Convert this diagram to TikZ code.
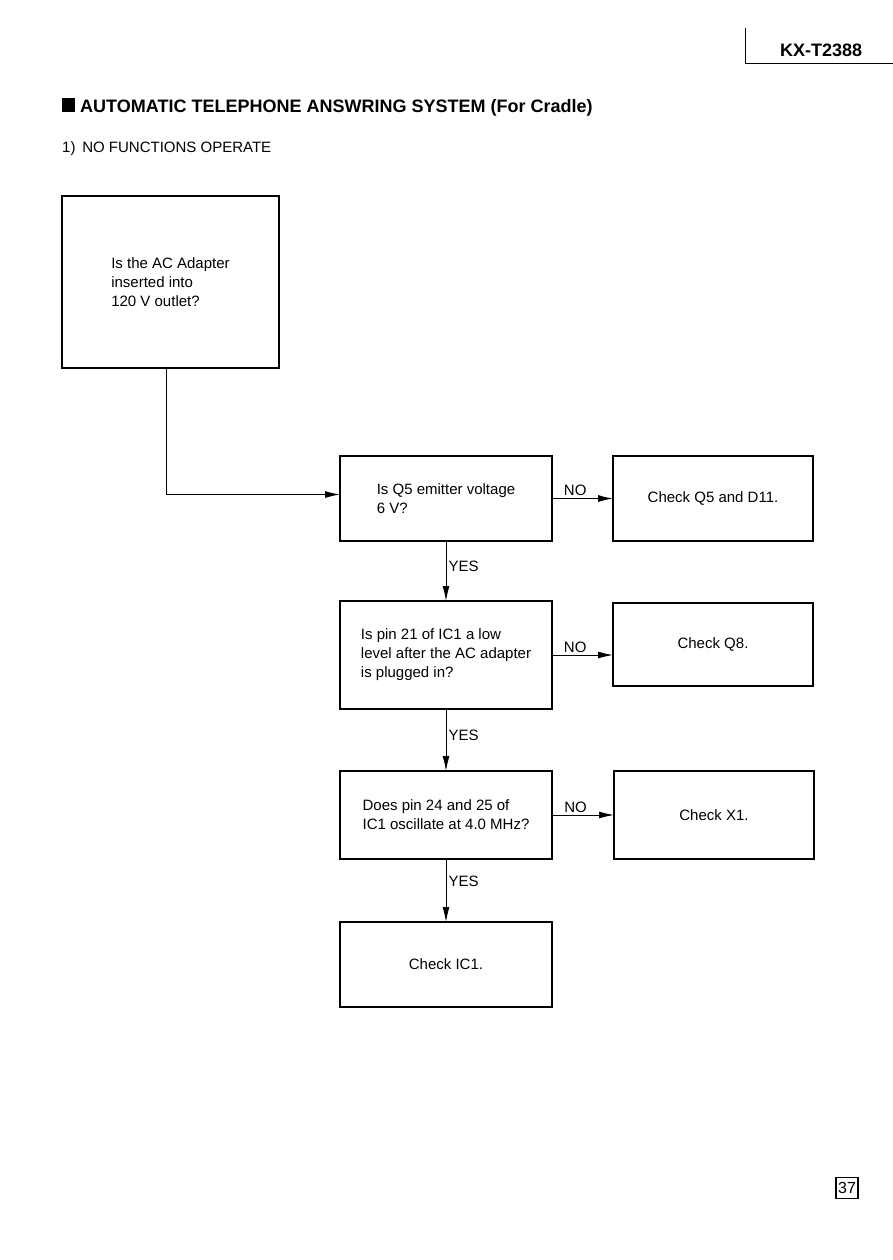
\documentclass[tikz,border=0pt]{standalone}
\usepackage{fontspec}
\setmainfont{Liberation Sans}
\usetikzlibrary{arrows.meta,positioning}

\begin{document}
\begin{tikzpicture}[x=1pt, y=1pt,
    box/.style={rectangle, draw, line width=1.5pt, outer sep=0pt, inner sep=0pt, align=left, font=\fontsize{15}{19}\selectfont},
    arrow/.style={-{Latex[length=15pt,width=7pt]}, line width=1pt},
    lbl/.style={font=\fontsize{15}{18}\selectfont, inner sep=2pt},
    node distance=60pt and 61pt]

  \useasboundingbox (0,0) rectangle (893,-1260);

  % page header
  \node[anchor=base west, inner sep=0pt, font=\fontsize{18}{22}\selectfont\bfseries] (model) at (780,-57) {KX-T2388};
  \coordinate (hdtop) at (745,-28);
  \coordinate (hdend) at (893,-63);
  \draw[line width=0.8pt] (hdtop) |- (hdend);

  % title
  \node[fill, minimum width=13pt, minimum height=14pt, inner sep=0pt] (bullet) at (68.5,-105) {};
  \node[anchor=base west, inner sep=0pt, font=\fontsize{18}{21}\selectfont\bfseries] (title) at (80,-113) {AUTOMATIC TELEPHONE ANSWRING SYSTEM (For Cradle)};
  \node[anchor=base west, inner sep=0pt, font=\fontsize{15}{17}\selectfont] (sub) at (62,-153) {1)\hspace{0.45em}NO FUNCTIONS OPERATE};

  % flow chart
  \node[box, minimum width=217pt, minimum height=172pt] (adapter) at (170.5,-282) {Is the AC Adapter\\inserted into\\120 V outlet?};
  \node[box, minimum width=212pt, minimum height=85pt] (q5) at (446,-498.5) {Is Q5 emitter voltage\\6 V?};
  \node[box, minimum width=200pt, minimum height=85pt, right=of q5] (chkq5) {Check Q5 and D11.};
  \node[box, minimum width=212pt, minimum height=108pt, below=of q5] (pin21) {Is pin 21 of IC1 a low\\level after the AC adapter\\is plugged in?};
  \node[box, minimum width=200pt, minimum height=83pt, right=of pin21.north east, anchor=north west, yshift=-2pt] (chkq8) {Check Q8.};
  \node[box, minimum width=212pt, minimum height=88pt, below=62pt of pin21] (osc) {Does pin 24 and 25 of\\IC1 oscillate at 4.0 MHz?};
  \node[box, minimum width=200pt, minimum height=88pt, right=62pt of osc] (chkx1) {Check X1.};
  \node[box, minimum width=212pt, minimum height=85pt, below=63pt of osc] (chkic1) {Check IC1.};

  \draw[arrow] ([xshift=-4pt]adapter.south) |- ([yshift=4pt]q5.west);
  \draw[arrow] (q5) -- (chkq5) node[lbl, pos=0.38, above] {NO};
  \draw[arrow] (q5) -- (pin21) node[lbl, pos=0.42, right] {YES};
  \draw[arrow] (pin21.east) -- (pin21.east -| chkq8.west) node[lbl, pos=0.38, above] {NO};
  \draw[arrow] (pin21) -- (osc) node[lbl, pos=0.42, right] {YES};
  \draw[arrow] (osc) -- (chkx1) node[lbl, pos=0.38, above] {NO};
  \draw[arrow] (osc) -- (chkic1) node[lbl, pos=0.35, right] {YES};

  % page number
  \node[draw, line width=1.2pt, minimum width=22pt, minimum height=21pt, inner sep=0pt, font=\fontsize{16}{18}\selectfont] (page) at (847,-1188) {37};
\end{tikzpicture}
\end{document}
